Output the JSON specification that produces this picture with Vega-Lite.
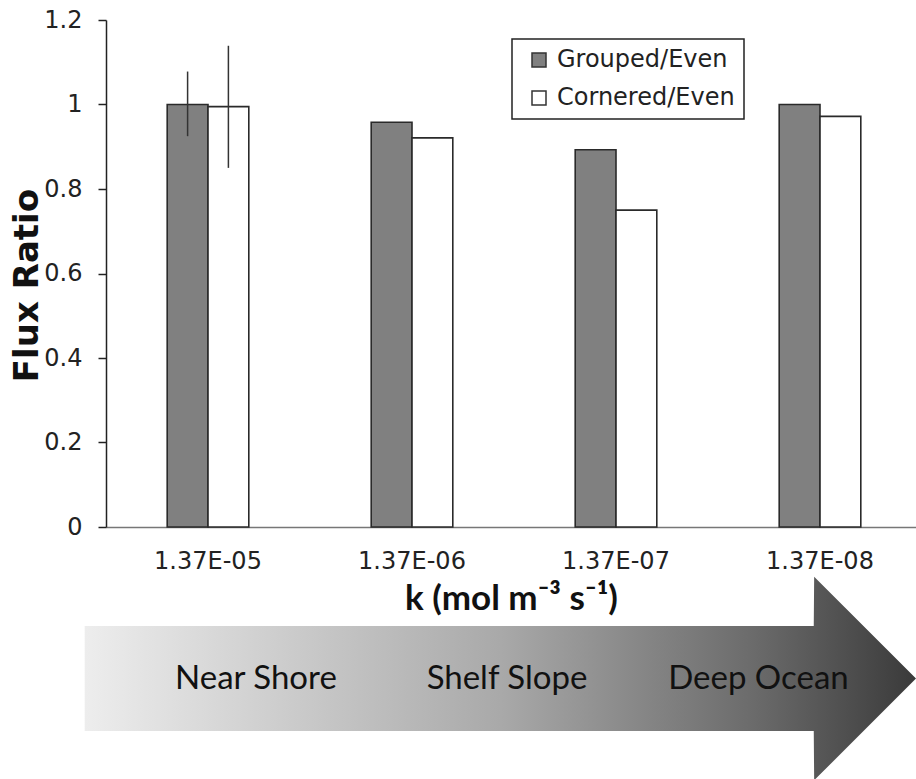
{
  "$schema": "https://vega.github.io/schema/vega-lite/v6.json",
  "background": "white",
  "padding": {"left": 10, "top": 8, "right": 0, "bottom": 0},
  "bounds": "flush",
  "spacing": 99,
  "config": {"view": {"stroke": null}, "legend": {"strokeWidth": 1.5}},
  "datasets": {
    "flux": [
      {"k": "1.37E-05", "layout": "Grouped/Even", "ratio": 1.0, "lo": 0.925, "hi": 1.078},
      {"k": "1.37E-05", "layout": "Cornered/Even", "ratio": 0.995, "lo": 0.85, "hi": 1.139},
      {"k": "1.37E-06", "layout": "Grouped/Even", "ratio": 0.958},
      {"k": "1.37E-06", "layout": "Cornered/Even", "ratio": 0.921},
      {"k": "1.37E-07", "layout": "Grouped/Even", "ratio": 0.893},
      {"k": "1.37E-07", "layout": "Cornered/Even", "ratio": 0.75},
      {"k": "1.37E-08", "layout": "Grouped/Even", "ratio": 1.0},
      {"k": "1.37E-08", "layout": "Cornered/Even", "ratio": 0.972}
    ],
    "arrow": [
      {"pos": 0, "lower": -1, "upper": 1},
      {"pos": 87.7, "lower": -1, "upper": 1},
      {"pos": 87.75, "lower": -1.94, "upper": 1.94},
      {"pos": 100, "lower": 0, "upper": 0}
    ],
    "zones": [
      {"zone": "Near Shore", "pos": 20.6},
      {"zone": "Shelf Slope", "pos": 50.8},
      {"zone": "Deep Ocean", "pos": 81.05}
    ]
  },
  "vconcat": [
    {
      "width": 816,
      "height": 507,
      "data": {"name": "flux"},
      "encoding": {
        "x": {
          "field": "k",
          "type": "nominal",
          "sort": null,
          "title": "k (mol m⁻³ s⁻¹)",
          "scale": {"paddingInner": 0.6, "paddingOuter": 0.3},
          "axis": {
            "labelAngle": 0,
            "ticks": false,
            "tickSize": 0,
            "domainColor": "#777777",
            "domainWidth": 1.5,
            "labelFont": "DejaVu Sans",
            "labelFontSize": 24,
            "labelColor": "#222222",
            "labelPadding": 22,
            "titleFont": "Lato",
            "titleFontSize": 35,
            "titleFontWeight": "bold",
            "titleColor": "#111111",
            "titleBaseline": "alphabetic",
            "titleX": 405,
            "titleY": 82
          }
        },
        "xOffset": {
          "field": "layout",
          "type": "nominal",
          "sort": ["Grouped/Even", "Cornered/Even"],
          "scale": {"paddingInner": 0, "paddingOuter": 0}
        }
      },
      "layer": [
        {
          "mark": {"type": "bar", "stroke": "#2a2a2a", "strokeWidth": 1.6},
          "encoding": {
            "y": {
              "field": "ratio",
              "type": "quantitative",
              "title": "Flux Ratio",
              "scale": {"domain": [0, 1.2]},
              "axis": {
                "values": [0, 0.2, 0.4, 0.6, 0.8, 1, 1.2],
                "format": "~g",
                "grid": false,
                "domainColor": "#222222",
                "domainWidth": 1.5,
                "tickColor": "#222222",
                "tickWidth": 1.5,
                "tickSize": 8,
                "labelFont": "DejaVu Sans",
                "labelFontSize": 24,
                "labelColor": "#222222",
                "labelPadding": 16,
                "titleFont": "DejaVu Sans",
                "titleFontSize": 34,
                "titleFontWeight": "bold",
                "titleColor": "#111111",
                "titleBaseline": "alphabetic",
                "titleX": -69,
                "titleY": 265
              }
            },
            "fill": {
              "field": "layout",
              "type": "nominal",
              "scale": {"domain": ["Grouped/Even", "Cornered/Even"], "range": ["#808080", "#ffffff"]},
              "legend": {
                "title": null,
                "orient": "none",
                "legendX": 406,
                "legendY": 19,
                "fillColor": "white",
                "strokeColor": "#222222",
                "padding": 9,
                "symbolType": "square",
                "symbolSize": 196,
                "symbolStrokeColor": "#333333",
                "symbolStrokeWidth": 1.5,
                "symbolOffset": 6,
                "labelOffset": 6,
                "rowPadding": 14,
                "labelLimit": 400,
                "labelFont": "DejaVu Sans",
                "labelFontSize": 24,
                "labelColor": "#222222"
              }
            }
          }
        },
        {
          "transform": [{"filter": "isValid(datum.lo)"}],
          "mark": {"type": "rule", "stroke": "#333333", "strokeWidth": 1.5},
          "encoding": {
            "y": {"field": "lo", "type": "quantitative"},
            "y2": {"field": "hi"}
          }
        }
      ]
    },
    {
      "width": 810,
      "height": 105,
      "layer": [
        {
          "data": {"name": "arrow"},
          "mark": {
            "type": "area",
            "fillOpacity": 1,
            "fill": {
              "gradient": "linear",
              "x1": 0, "y1": 0, "x2": 1, "y2": 0,
              "stops": [
                {"offset": 0, "color": "#ededed"},
                {"offset": 0.5, "color": "#a9a9a9"},
                {"offset": 0.8, "color": "#6c6c6c"},
                {"offset": 1, "color": "#3a3a3a"}
              ]
            }
          },
          "encoding": {
            "x": {"field": "pos", "type": "quantitative", "scale": {"domain": [0, 100], "range": [-21.3, 810]}, "axis": null},
            "y": {"field": "lower", "type": "quantitative", "scale": {"domain": [-1, 1]}, "axis": null},
            "y2": {"field": "upper"}
          }
        },
        {
          "data": {"name": "zones"},
          "mark": {"type": "text", "font": "Lato", "fontSize": 33, "color": "#111111"},
          "encoding": {
            "x": {"field": "pos", "type": "quantitative"},
            "y": {"datum": 0, "type": "quantitative"},
            "text": {"field": "zone"}
          }
        }
      ]
    }
  ]
}
